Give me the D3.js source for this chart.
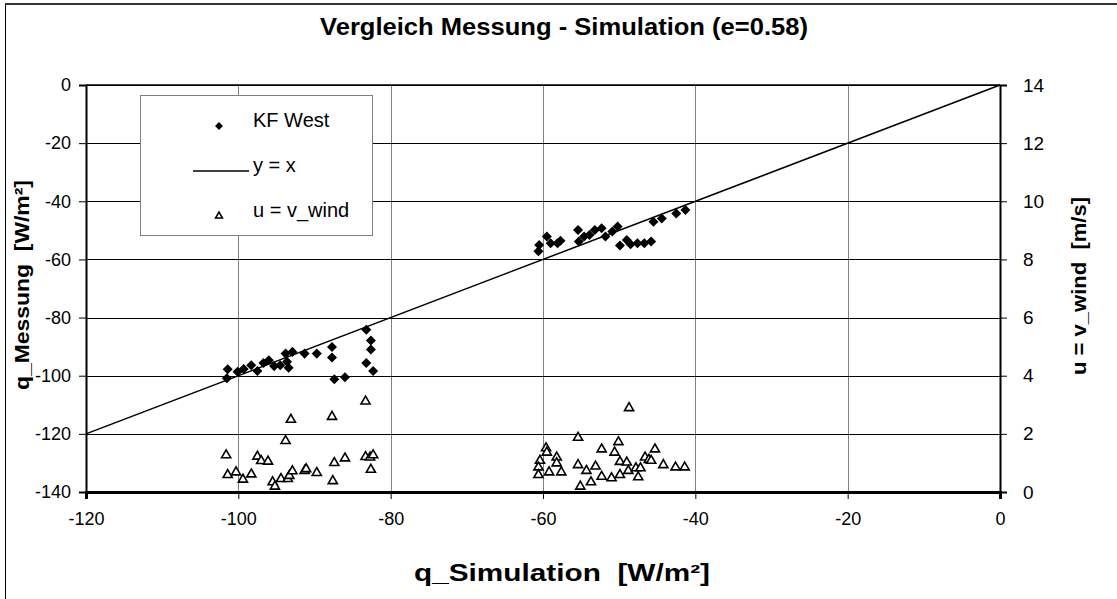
<!DOCTYPE html>
<html>
<head>
<meta charset="utf-8">
<script src="https://cdn.jsdelivr.net/npm/d3@7"></script>
<style>
  body { margin: 0; background: #fff; }
  text { font-family: "Liberation Sans", Arial, sans-serif; white-space: pre; }
</style>
</head>
<body>
<script>
// KF West: measured vs simulated
let kfX = [-101.5, -101.4, -100.1, -99.3, -98.3, -97.5, -96.7, -96.0, -95.3, -94.5, -93.8, -93.6, -93.4, -92.9, -91.3, -89.7, -87.7, -87.7, -87.4, -86.0, -83.2, -82.6, -82.6, -83.2, -82.3,
           -60.6, -60.5, -59.5, -59.0, -58.1, -57.7, -55.4, -55.3, -54.6, -53.9, -53.2, -52.3, -51.8, -50.9, -50.2, -49.9, -49.0, -48.5, -47.6, -46.7, -45.8, -45.5, -44.4, -42.5, -41.3];
let kfY = [-100.9, -97.8, -98.6, -97.7, -96.4, -98.4, -95.6, -94.7, -96.7, -96.4, -92.4, -95.2, -97.3, -91.8, -92.4, -92.4, -90.1, -93.7, -101.2, -100.5, -84.2, -87.9, -91.0, -95.6, -98.4,
           -57.2, -55.0, -52.1, -54.4, -54.4, -53.6, -49.9, -53.8, -52.1, -51.6, -49.9, -49.3, -52.1, -50.4, -48.7, -55.2, -53.3, -54.8, -54.4, -54.4, -53.8, -47.0, -45.9, -44.2, -43.0];

// wind speed (right axis)
let windX = [-101.6, -101.4, -100.3, -99.4, -98.3, -97.5, -97.0, -96.1, -95.5, -95.2, -94.4, -93.8, -93.5, -93.3, -93.1, -92.9, -91.3, -91.1, -89.7, -87.7, -87.6, -87.4, -86.0, -83.3, -83.3, -82.7, -82.3, -82.6,
             -48.7, -55.4, -59.6, -59.5, -60.4, -60.6, -60.6, -59.2, -58.2, -58.2, -57.6, -55.4, -55.1, -54.3, -53.7, -53.1, -52.3, -52.3, -51.0, -50.6, -50.1, -49.9, -49.9, -49.0, -48.8, -47.8, -47.5, -47.2, -46.6, -46.1, -45.8, -45.3, -44.2, -42.6, -41.4];
let windU = [1.27, 0.59, 0.68, 0.43, 0.61, 1.22, 1.07, 1.05, 0.34, 0.19, 0.45, 1.76, 0.45, 0.56, 2.49, 0.72, 0.73, 0.79, 0.66, 2.59, 0.38, 1.0, 1.16, 3.12, 1.21, 1.19, 1.27, 0.77,
             2.89, 1.87, 1.51, 1.36, 1.08, 0.85, 0.59, 0.68, 1.19, 0.99, 0.68, 0.93, 0.19, 0.73, 0.34, 0.88, 1.47, 0.53, 0.48, 1.36, 1.72, 1.04, 0.59, 1.02, 0.73, 0.82, 0.51, 0.82, 1.19, 1.11, 1.08, 1.47, 0.93, 0.85, 0.85];

let lineX = [-120, 0];
let xTicks = [-120, -100, -80, -60, -40, -20, 0];
let yTicks = [-140, -120, -100, -80, -60, -40, -20, 0];
let uTicks = [0, 2, 4, 6, 8, 10, 12, 14];
let legendLabels = ['KF West', 'y = x', 'u = v_wind'];

let width = 1117, height = 599;
let plotLeft = 86, plotRight = 1000, plotTop = 85, plotBottom = 492;

let svg = d3.select('body').append('svg').attr('width', width).attr('height', height);

// outer frame
svg.append('rect').attr('x', 5.5).attr('y', 3.5).attr('width', width + 10).attr('height', height + 10)
  .attr('fill', 'none').attr('stroke', '#000').attr('stroke-width', 1);
svg.append('line').attr('x1', 5).attr('x2', width).attr('y1', 4).attr('y2', 4)
  .attr('stroke', '#333').attr('stroke-width', 2);

let x = d3.scaleLinear().domain([-120, 0]).range([plotLeft, plotRight]);
let y = d3.scaleLinear().domain([-140, 0]).range([plotBottom, plotTop]);
let yu = d3.scaleLinear().domain([0, 14]).range([plotBottom, plotTop]);

// gridlines
svg.append('g').selectAll('line').data(xTicks.slice(1, -1)).enter().append('line')
  .attr('x1', d => Math.round(x(d)) + 0.5).attr('x2', d => Math.round(x(d)) + 0.5).attr('y1', plotTop).attr('y2', plotBottom)
  .attr('stroke', '#808080').attr('stroke-width', 1);
svg.append('g').selectAll('line').data(yTicks).enter().append('line')
  .attr('x1', plotLeft).attr('x2', plotRight).attr('y1', d => Math.round(y(d)) + 0.5).attr('y2', d => Math.round(y(d)) + 0.5)
  .attr('stroke', '#000').attr('stroke-width', 1);

// axes (plain hyphen minus like the original)
let fmt = d => String(d);
let axB = svg.append('g').attr('transform', `translate(0,${plotBottom})`)
  .call(d3.axisBottom(x).tickValues(xTicks).tickFormat(fmt).tickSize(7).tickPadding(13));
let axL = svg.append('g').attr('transform', `translate(${plotLeft},0)`)
  .call(d3.axisLeft(y).tickValues(yTicks).tickFormat(fmt).tickSize(7).tickPadding(8));
let axR = svg.append('g').attr('transform', `translate(${plotRight},0)`)
  .call(d3.axisRight(yu).tickValues(uTicks).tickFormat(fmt).tickSize(7).tickPadding(16));
[axB, axL, axR].forEach(a => {
  a.select('.domain').attr('stroke', '#000').attr('stroke-width', 2);
  a.selectAll('.tick line').attr('stroke', '#000');
  a.selectAll('.tick text').attr('font-size', 18).attr('fill', '#000')
    .style('font-family', '"Liberation Sans", Arial, sans-serif');
});
axR.selectAll('.tick text').attr('font-size', 19);
axB.select('.domain').attr('stroke-width', 3);

// plot area top border
svg.append('line').attr('x1', plotLeft).attr('x2', plotRight).attr('y1', plotTop).attr('y2', plotTop)
  .attr('stroke', '#000').attr('stroke-width', 1.5);

// y = x line
svg.append('line')
  .attr('x1', x(lineX[0])).attr('y1', y(lineX[0])).attr('x2', x(lineX[1])).attr('y2', y(lineX[1]))
  .attr('stroke', '#000').attr('stroke-width', 1.5);

let diamond = d3.symbol().type(d3.symbolDiamond2).size(64);
let tri = d3.symbol().type(d3.symbolTriangle).size(36);

svg.append('g').selectAll('path').data(windX).enter().append('path')
  .attr('d', tri)
  .attr('transform', (d, i) => `translate(${x(d)},${yu(windU[i])})`)
  .attr('fill', '#fff').attr('stroke', '#000').attr('stroke-width', 1.6);

svg.append('g').selectAll('path').data(kfX).enter().append('path')
  .attr('d', diamond)
  .attr('transform', (d, i) => `translate(${x(d)},${y(kfY[i])})`)
  .attr('fill', '#000');

// legend
let lg = svg.append('g');
lg.append('rect').attr('x', 140.5).attr('y', 95.5).attr('width', 232).attr('height', 140)
  .attr('fill', '#fff').attr('stroke', '#808080').attr('stroke-width', 1);
lg.append('path').attr('d', d3.symbol().type(d3.symbolDiamond2).size(40))
  .attr('transform', 'translate(219,126)').attr('fill', '#000');
lg.append('line').attr('x1', 193).attr('x2', 249).attr('y1', 171).attr('y2', 171)
  .attr('stroke', '#000').attr('stroke-width', 1.5);
lg.append('path').attr('d', d3.symbol().type(d3.symbolTriangle).size(20))
  .attr('transform', 'translate(219,216)').attr('fill', '#fff').attr('stroke', '#000').attr('stroke-width', 1.6);
lg.selectAll('text').data(legendLabels).enter().append('text')
  .attr('x', 253).attr('y', (d, i) => 127 + i * 45)
  .attr('font-size', 20).text(d => d);

// titles
function title(t, tr, size, len) {
  svg.append('text').attr('transform', tr).attr('text-anchor', 'middle')
    .attr('font-size', size).attr('font-weight', 'bold')
    .attr('textLength', len).attr('lengthAdjust', 'spacingAndGlyphs')
    .text(t);
}
title('Vergleich Messung - Simulation (e=0.58)', 'translate(564,35)', 23, 488);
title('q_Simulation  [W/m²]', 'translate(562,581)', 23, 296);
title('q_Messung  [W/m²]', 'translate(29,285) rotate(-90)', 21, 210);
title('u = v_wind  [m/s]', 'translate(1086,286) rotate(-90)', 21, 178);
</script>
</body>
</html>
